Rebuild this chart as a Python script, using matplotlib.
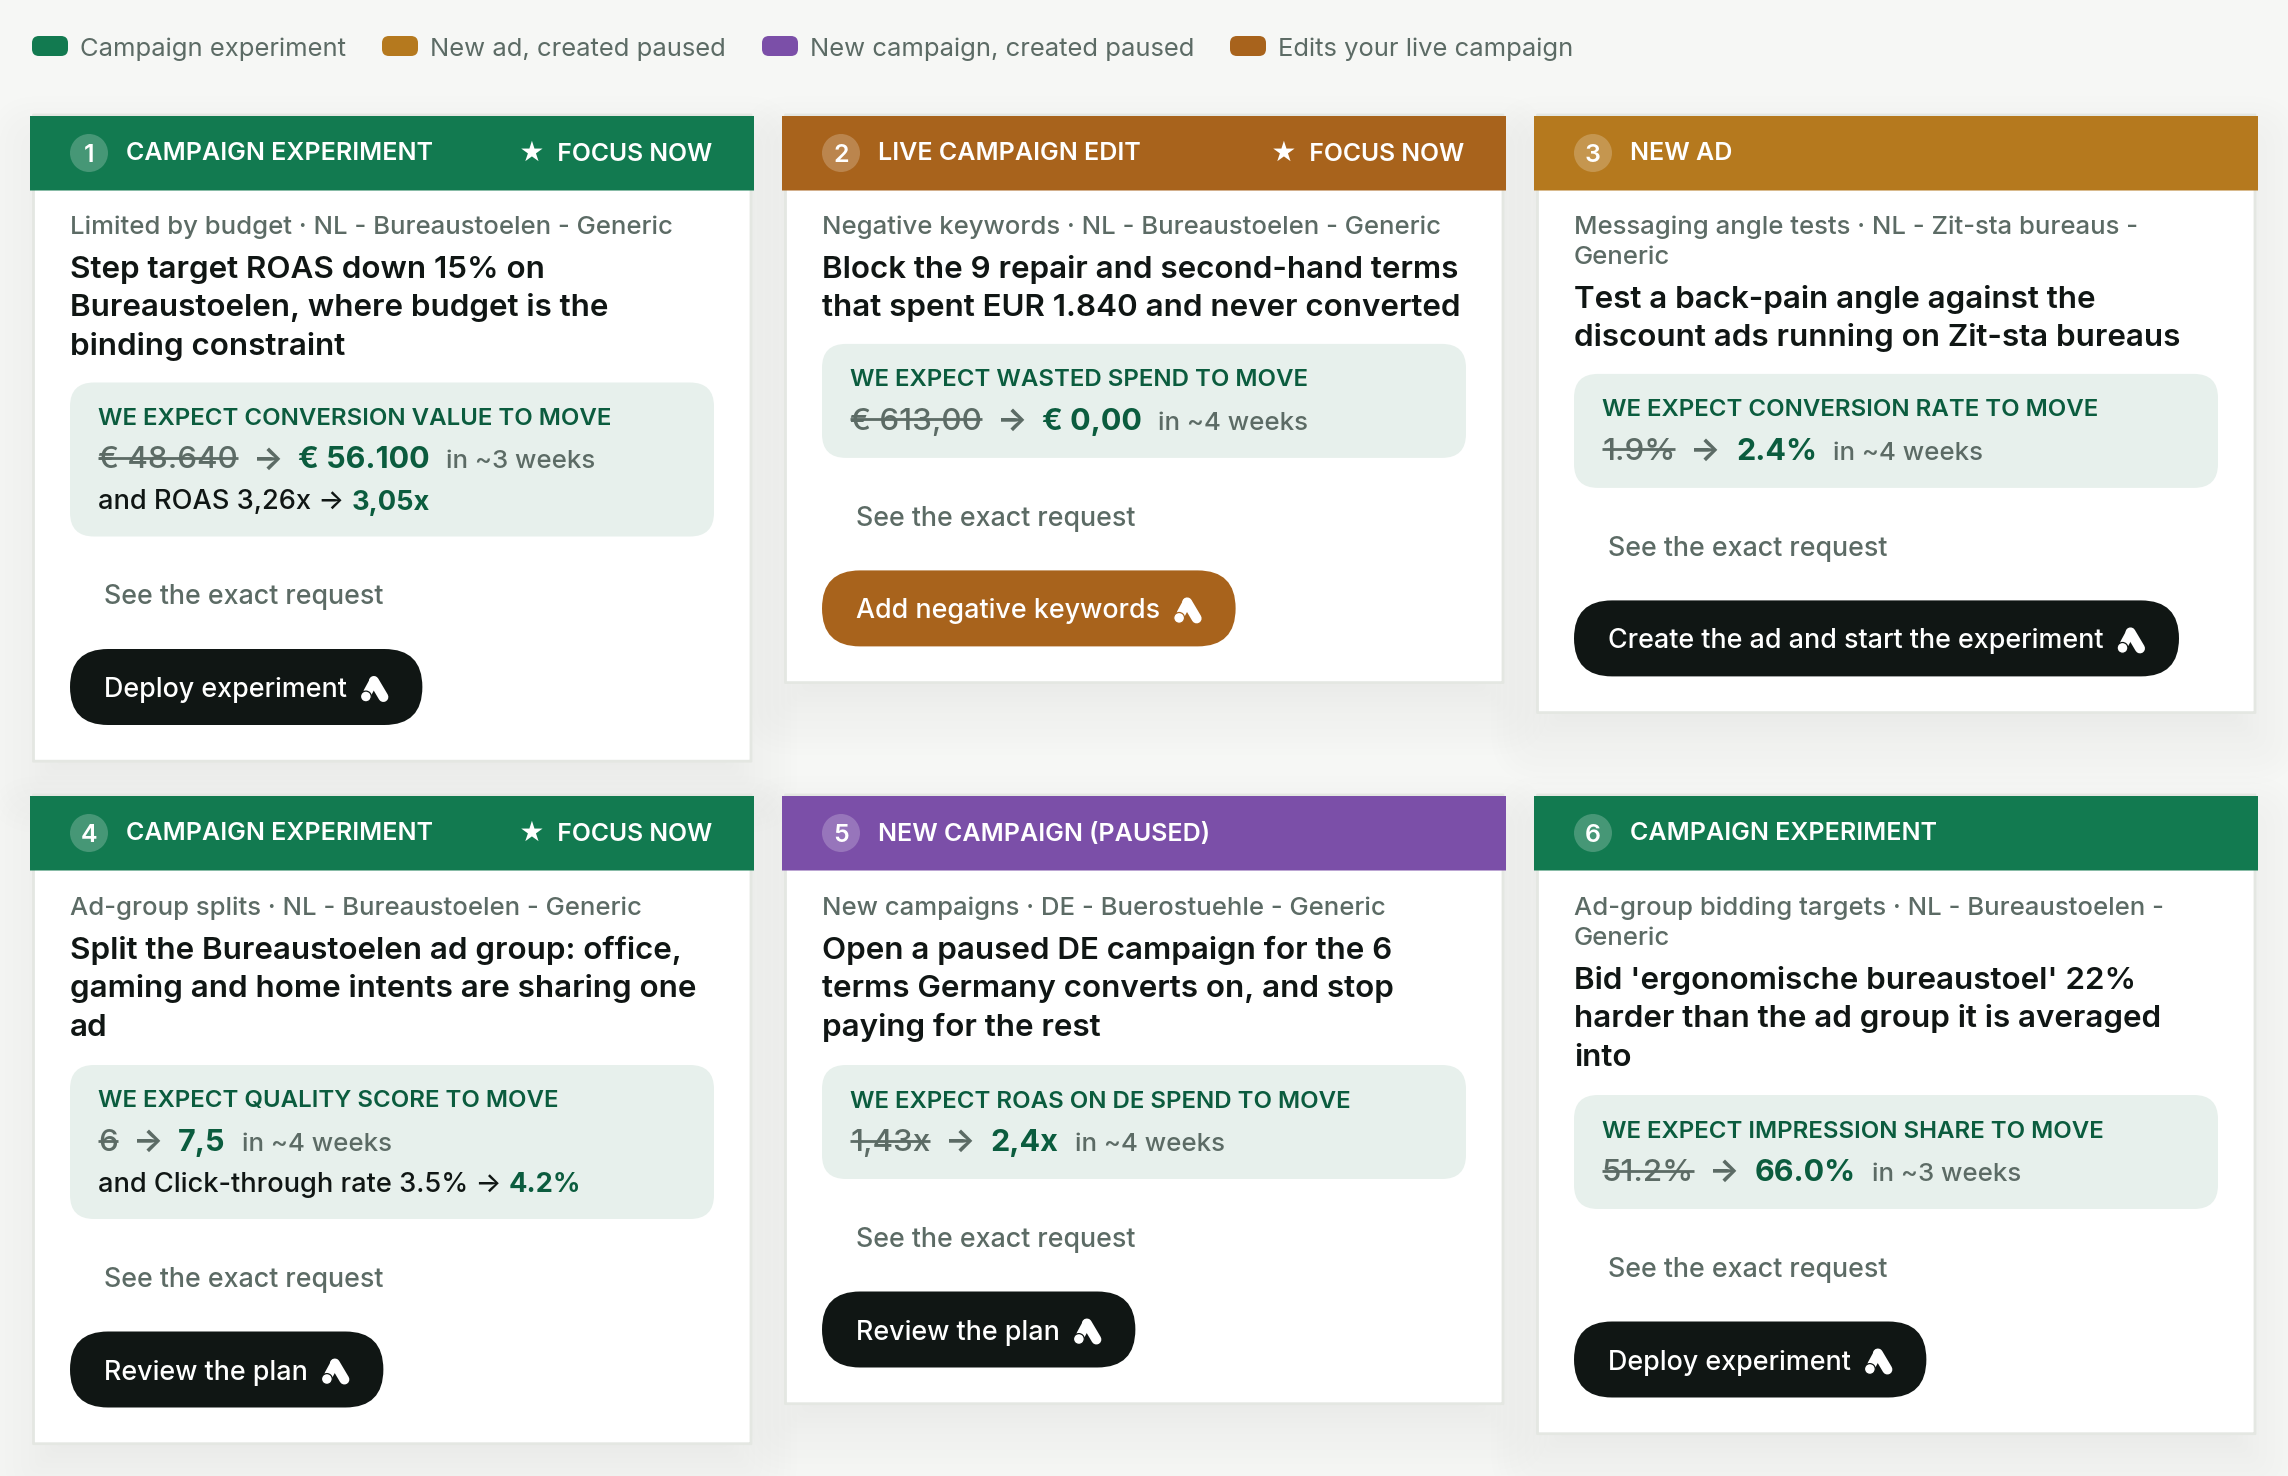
import matplotlib
matplotlib.use('Agg')
import matplotlib.pyplot as plt
from matplotlib.patches import FancyBboxPatch, Circle

plt.rcParams['font.family'] = ['Inter', 'DejaVu Sans']

W, H = 2288, 1476
BG = '#f6f7f5'
GREEN, AMBER, BROWN, PURPLE = '#127a50', '#b5791e', '#a8631c', '#7b4fa8'
INK, GREY, DEEP, TINT, EDGE = '#101614', '#5c6b65', '#0b5c3e', '#e7f0ec', '#e4e7e2'

legend_labels = ['Campaign experiment', 'New ad, created paused',
                 'New campaign, created paused', 'Edits your live campaign']
legend_colors = [GREEN, AMBER, PURPLE, BROWN]
legend_x = [32, 382, 762, 1230]

kinds = ['CAMPAIGN EXPERIMENT', 'LIVE CAMPAIGN EDIT', 'NEW AD',
         'CAMPAIGN EXPERIMENT', 'NEW CAMPAIGN (PAUSED)', 'CAMPAIGN EXPERIMENT']
colors = [GREEN, BROWN, AMBER, GREEN, PURPLE, GREEN]
focus = [True, True, False, True, False, False]
metas = [['Limited by budget · NL - Bureaustoelen - Generic'],
         ['Negative keywords · NL - Bureaustoelen - Generic'],
         ['Messaging angle tests · NL - Zit-sta bureaus -', 'Generic'],
         ['Ad-group splits · NL - Bureaustoelen - Generic'],
         ['New campaigns · DE - Buerostuehle - Generic'],
         ['Ad-group bidding targets · NL - Bureaustoelen -', 'Generic']]
titles = [['Step target ROAS down 15% on', 'Bureaustoelen, where budget is the', 'binding constraint'],
          ['Block the 9 repair and second-hand terms', 'that spent EUR 1.840 and never converted'],
          ['Test a back-pain angle against the', 'discount ads running on Zit-sta bureaus'],
          ['Split the Bureaustoelen ad group: office,', 'gaming and home intents are sharing one', 'ad'],
          ['Open a paused DE campaign for the 6', 'terms Germany converts on, and stop', 'paying for the rest'],
          ["Bid 'ergonomische bureaustoel' 22%", 'harder than the ad group it is averaged', 'into']]
metrics = ['CONVERSION VALUE', 'WASTED SPEND', 'CONVERSION RATE',
           'QUALITY SCORE', 'ROAS ON DE SPEND', 'IMPRESSION SHARE']
old_values = ['€ 48.640', '€ 613,00', '1.9%', '6', '1,43x', '51.2%']
new_values = ['€ 56.100', '€ 0,00', '2.4%', '7,5', '2,4x', '66.0%']
horizons = ['in ~3 weeks', 'in ~4 weeks', 'in ~4 weeks', 'in ~4 weeks', 'in ~4 weeks', 'in ~3 weeks']
extra_old = ['and ROAS 3,26x →', None, None, 'and Click-through rate 3.5% →', None, None]
extra_new = ['3,05x', None, None, '4.2%', None, None]
buttons = ['Deploy experiment', 'Add negative keywords', 'Create the ad and start the experiment',
           'Review the plan', 'Review the plan', 'Deploy experiment']
button_colors = [INK, BROWN, INK, INK, INK, INK]

fig = plt.figure(figsize=(W / 100, H / 100), dpi=100, facecolor=BG)
ax = fig.add_axes([0, 0, 1, 1])
ax.set_xlim(0, W)
ax.set_ylim(H, 0)
ax.axis('off')
rend = fig.canvas.get_renderer()


def rrect(x0, y0, x1, y1, r, fc, ec='none', lw=0, alpha=None, z=2):
    p = FancyBboxPatch((x0, y0), x1 - x0, y1 - y0, boxstyle=f'round,pad=0,rounding_size={r}',
                       fc=fc, ec=ec, lw=lw, alpha=alpha, zorder=z)
    ax.add_patch(p)


def put(x, y, s, size, color, weight=400, ha='left', z=5):
    t = ax.text(x, y, s, fontsize=size, color=color, fontweight=weight, ha=ha, va='baseline', zorder=z)
    return t


def width(t):
    return t.get_window_extent(rend).width


def icon(cx, cy, bg):
    px = 0.72
    ax.plot([cx - 1, cx + 8.5], [cy - 6, cy + 10], color='white', lw=10 * px, solid_capstyle='round', zorder=6)
    ax.plot([cx - 1, cx - 7], [cy - 6, cy + 5], color='white', lw=9 * px, solid_capstyle='round', zorder=6)
    ax.add_patch(Circle((cx - 9, cy + 9.5), 5.4, fc='white', ec=bg, lw=0.9, zorder=7))


def shadow(x0, y0, x1, y1):
    for g in (46, 40, 34, 28, 20, 12, 4, -2, -7, -12, -17, -22, -25):
        rrect(x0 - g, y0 - g + 26, x1 + g, y1 + g + 26, max(g, 0) + 8, '#33483c', alpha=0.004, z=1)


for lab, col, lx in zip(legend_labels, legend_colors, legend_x):
    rrect(lx, 36, lx + 36, 56, 7, col)
    put(lx + 48.5, 56, lab, 18.45, GREY)

card_x = [30, 782, 1534]
row_y = [116, 798.5]
header_top = [116, 796]
meta_shift = [0, -1.5]
for i in range(6):
    X = card_x[i % 3]
    Y = row_y[i // 3]
    HT = header_top[i // 3]
    L = X + 40
    col = colors[i]
    y = Y + 118 + meta_shift[i // 3]
    meta_lh, title_lh = 30, 38.6
    meta_y = [y + meta_lh * n for n in range(len(metas[i]))]
    y = meta_y[-1] + 43.8
    title_y = [y + title_lh * n for n in range(len(titles[i]))]
    box_top = Y + 118 + meta_lh * (len(metas[i]) - 1) + 43.3 + title_lh * (len(titles[i]) - 1) + 28
    box_bottom = box_top + (154 if extra_old[i] else 114)
    btn_top = box_bottom + 112.5
    btn_bottom = btn_top + 76
    bottom = btn_bottom + 36.2

    shadow(X + 3, HT, X + 721, bottom)
    rrect(X + 3.5, HT - 1, X + 721, bottom, 0.01, 'white', EDGE, 2, z=2)
    rrect(X, HT, X + 724, HT + 74.5, 0.01, col, z=3)

    ax.add_patch(Circle((L + 19, HT + 37), 19, fc='white', alpha=0.22, ec='none', zorder=4))
    put(L + 19, HT + 45.5, str(i + 1), 18, 'white', 600, ha='center')
    put(L + 56.5, HT + 44.5, kinds[i], 18, 'white', 600)
    if focus[i]:
        put(X + 682, HT + 44.5, '★  FOCUS NOW', 17.8, 'white', 600, ha='right')

    for my, m in zip(meta_y, metas[i]):
        put(L, my, m, 18.5, GREY, 500)
    for ty, tl in zip(title_y, titles[i]):
        put(L, ty, tl, 22.6, INK, 600)

    rrect(L, box_top, L + 644, box_bottom, 24, TINT, z=3)
    tx = L + 28
    put(tx, box_top + 42.5, f'WE EXPECT {metrics[i]} TO MOVE', 17.3, DEEP, 600)
    vy = box_top + 86
    t = put(tx, vy, old_values[i], 22.6, GREY, 500)
    w0 = width(t)
    ax.plot([tx, tx + w0], [vy - 10.5, vy - 10.5], color=GREY, lw=2.0, solid_capstyle='butt', zorder=6)
    ax_x = tx + w0 + 15
    t = put(ax_x, vy, '→', 23.0, GREY, 700)
    ax_x += width(t) + 15
    t = put(ax_x, vy, new_values[i], 22.0, DEEP, 700)
    ax_x += width(t) + 16
    put(ax_x, vy, horizons[i], 18.6, GREY, 500)
    if extra_old[i]:
        ey = box_top + 127
        t = put(tx, ey, extra_old[i], 19.6, INK, 500)
        put(tx + width(t) + 7, ey, extra_new[i], 19.6, DEEP, 700)

    put(L + 34, box_bottom + 68, 'See the exact request', 19.3, GREY, 500)

    bc = button_colors[i]
    t = ax.text(L + 34, (btn_top + btn_bottom) / 2 + 10, buttons[i], fontsize=19.35, color='white',
                fontweight=500, va='baseline', zorder=5)
    tw = width(t)
    rrect(L, btn_top, L + 34 + tw + 75.5, btn_bottom, 38, bc, z=3)
    icon(L + 34 + tw + 28, (btn_top + btn_bottom) / 2, bc)

fig.savefig('out.png', dpi=100, facecolor=BG)
